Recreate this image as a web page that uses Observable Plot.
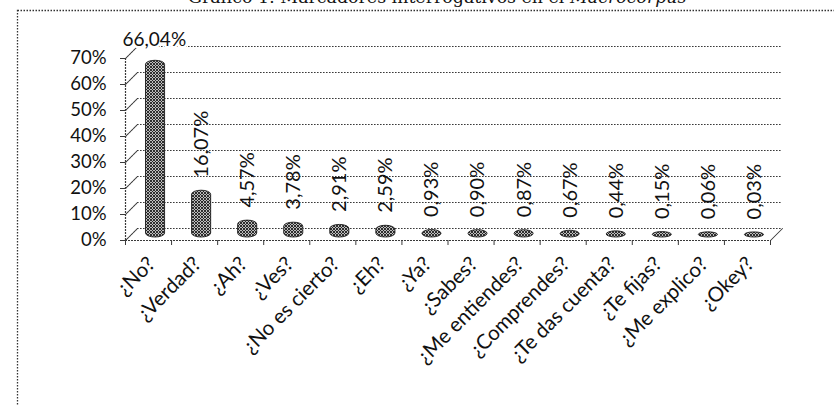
<!DOCTYPE html>
<html>
<head>
<meta charset="utf-8">
<script src="https://cdn.jsdelivr.net/npm/d3@7"></script>
<script src="https://cdn.jsdelivr.net/npm/@observablehq/plot@0.6"></script>
<style>
  html, body { margin: 0; padding: 0; background: #fff; }
  body { width: 834px; height: 406px; overflow: hidden; position: relative; }
  #title { position: absolute; left: 188px; top: -10.6px; font-family: "DejaVu Serif", serif; font-size: 17.4px; line-height: 17.4px; white-space: nowrap; color: #111; }
  #chart { position: absolute; left: 0; top: 0; }
</style>
</head>
<body>
<div id="chart"></div>
<div id="title">Gráfico 1: Marcadores interrogativos en el <i>Macrocorpus</i></div>
<script>
const categories = ["¿No?", "¿Verdad?", "¿Ah?", "¿Ves?", "¿No es cierto?", "¿Eh?", "¿Ya?", "¿Sabes?", "¿Me entiendes?", "¿Comprendes?", "¿Te das cuenta?", "¿Te fijas?", "¿Me explico?", "¿Okey?"];
const values = [66.04, 16.07, 4.57, 3.78, 2.91, 2.59, 0.93, 0.90, 0.87, 0.67, 0.44, 0.15, 0.06, 0.03];
const yTicks = [0, 10, 20, 30, 40, 50, 60, 70];

const data = categories.map((c, i) => ({c, i, v: values[i]}));
const boundaries = d3.range(categories.length + 1);
const fmt = d => d.v.toFixed(2).replace(".", ",") + "%";
const FONT = "Lato, 'Open Sans', sans-serif";
const GRID = "#3a3a3a";

const plot = Plot.plot({
  width: 834,
  height: 406,
  marginLeft: 125,
  marginRight: 64,
  marginTop: 58,
  marginBottom: 166,
  style: {fontFamily: FONT, color: "#111", background: "transparent"},
  x: {type: "linear", domain: [0, categories.length]},
  y: {domain: [0, 70]},
  marks: [
    // back wall gridlines (3D offset)
    Plot.ruleY(yTicks, {y: d => d, dx: 12, dy: -12, stroke: GRID, strokeWidth: 1, strokeDasharray: "1.6,1.4"}),
    // left wall diagonals
    Plot.vector(yTicks, {x: () => 0, y: d => d, length: 17, rotate: 45, anchor: "start", shape: "spike", r: 0.01, stroke: GRID, fill: "none", strokeWidth: 1, strokeDasharray: "1.6,1.4"}),
    // right floor diagonal
    Plot.vector([0], {x: () => categories.length, y: d => d, length: 17, rotate: 45, anchor: "start", shape: "spike", r: 0.01, stroke: GRID, fill: "none", strokeWidth: 1}),
    // front floor and left axis line
    Plot.ruleY([0], {stroke: GRID, strokeWidth: 1.2, strokeDasharray: "2,1"}),
    Plot.ruleX([0], {stroke: GRID, strokeWidth: 1.2, strokeDasharray: "2,1"}),
    Plot.axisX(boundaries, {tickFormat: () => "", tickSize: 5, label: null, stroke: GRID}),
    Plot.axisY(yTicks, {tickFormat: d => d + "%", tickSize: 5, tickPadding: 14, fontSize: 18.5, label: null, stroke: GRID}),
    // bars (cylinders)
    Plot.rectY(data, {x1: d => d.i, x2: d => d.i + 1, y: "v", insetLeft: 13.5, insetRight: 13.5, insetTop: -3, insetBottom: -2, dx: 7, dy: -5, rx: 9.5, ry: 4, fill: "url(#hatch)", stroke: "#1a1a1a", strokeWidth: 0.9}),
    // value labels
    Plot.text(data.slice(1), {x: d => d.i + 0.5, y: "v", text: fmt, rotate: -90, textAnchor: "start", lineAnchor: "middle", dx: 7, dy: -21, fontSize: 20, fill: "#111"}),
    Plot.text(data.slice(0, 1), {x: d => d.i, y: "v", text: fmt, textAnchor: "start", lineAnchor: "middle", dx: -3, dy: -29, fontSize: 19, fill: "#111", stroke: "white", strokeWidth: 5}),
    // category labels
    Plot.text(data, {x: d => d.i + 0.5, y: () => 0, text: "c", rotate: -45, textAnchor: "end", lineAnchor: "middle", dx: 3, dy: 20, fontSize: 20.5, fill: "#111"})
  ]
});

const svg = d3.select(plot);
svg.insert("defs", ":first-child").html(
  '<pattern id="hatch" width="3" height="3" patternUnits="userSpaceOnUse">' +
  '<rect width="3" height="3" fill="#bcbcbc"/>' +
  '<path d="M0,0 L3,3 M3,0 L0,3" stroke="#1e1e1e" stroke-width="0.9"/></pattern>'
);
svg.insert("rect", "defs + *")
  .attr("x", 17.5).attr("y", 10.5).attr("width", 900).attr("height", 500)
  .attr("fill", "none").attr("stroke", "#333").attr("stroke-width", 1.3)
  .attr("stroke-dasharray", "1.5,1.5");

document.getElementById("chart").appendChild(plot);
</script>
</body>
</html>
